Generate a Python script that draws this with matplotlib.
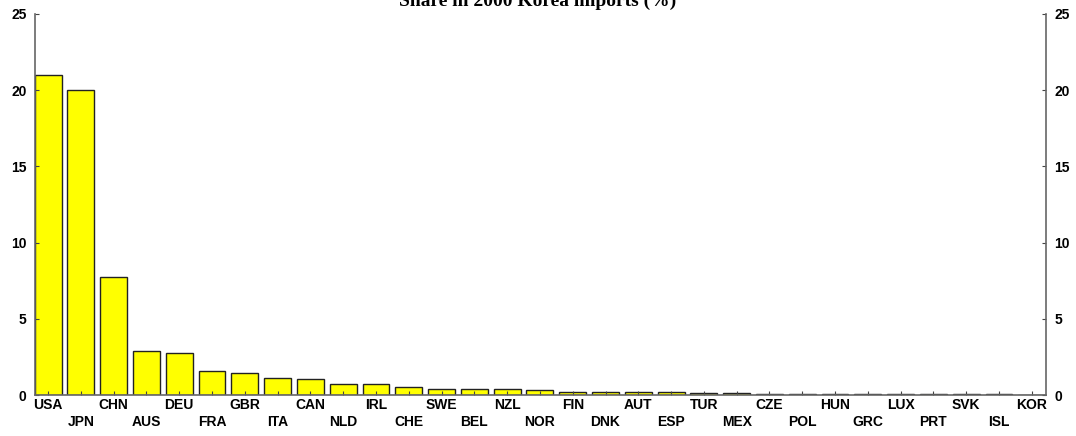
import matplotlib.pyplot as plt
import numpy as np

# share in 2000 Korea imports (%)
countries = ['USA', 'JPN', 'CHN', 'AUS', 'DEU', 'FRA', 'GBR', 'ITA', 'CAN', 'NLD',
             'IRL', 'CHE', 'SWE', 'BEL', 'NZL', 'NOR', 'FIN', 'DNK', 'AUT', 'ESP',
             'TUR', 'MEX', 'CZE', 'POL', 'HUN', 'GRC', 'LUX', 'PRT', 'SVK', 'ISL', 'KOR']
shares = [21.0, 20.0, 7.75, 2.9, 2.75, 1.57, 1.45, 1.12, 1.06, 0.72,
          0.72, 0.52, 0.4, 0.4, 0.4, 0.3, 0.2, 0.2, 0.2, 0.17,
          0.15, 0.12, 0.07, 0.07, 0.07, 0.04, 0.04, 0.04, 0.04, 0.04, 0.0]
yticks = [0, 5, 10, 15, 20, 25]

fig = plt.figure(figsize=(10.76, 4.36), dpi=100)
ax = fig.add_axes([0.0325, 0.094, 0.9395, 0.874])

x = np.arange(len(countries))
ax.bar(x, shares, width=0.82, color='#FFFF00', edgecolor='#222222', linewidth=1.0)

ax.set_xlim(-0.4, 30.43)
ax.set_ylim(0, 25)

# alternate labels on two rows
labels = [c if i % 2 == 0 else '\n' + c for i, c in enumerate(countries)]
ax.set_xticks(x)
ax.set_xticklabels(labels, fontsize=10, fontweight='bold', family='Liberation Sans',
                   linespacing=1.25)
ax.tick_params(axis='x', direction='in', length=3, pad=2, color='#444444')

ax.set_yticks(yticks)
ax.tick_params(axis='y', direction='in', length=3, labelsize=10, pad=6,
               left=True, right=True, labelleft=True, labelright=True,
               color='#444444')
for lab in ax.get_yticklabels():
    lab.set_fontweight('bold')
    lab.set_family('Liberation Sans')

ax.spines['top'].set_visible(False)
for s in ['left', 'right', 'bottom']:
    ax.spines[s].set_color('#666666')
    ax.spines[s].set_linewidth(1.2)

fig.text(0.5, 0.997, 'Share in 2000 Korea imports (%)', ha='center', va='center',
         fontsize=14, fontweight='bold', family='Liberation Serif')

fig.savefig('out.png', dpi=100)
